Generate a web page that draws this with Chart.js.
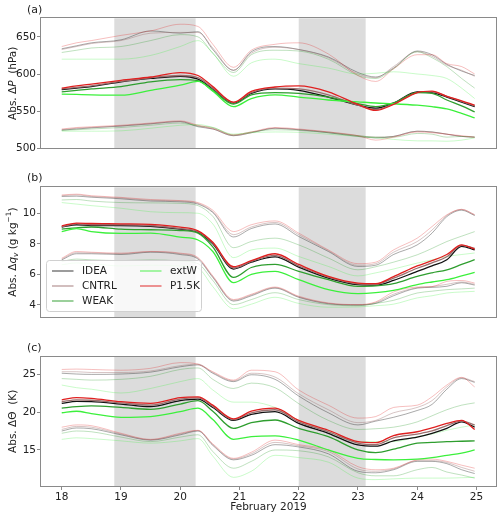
<!DOCTYPE html>
<html><head><meta charset="utf-8">
<script src="https://cdn.jsdelivr.net/npm/chart.js@4.4.0/dist/chart.umd.min.js"></script>
<style>
html,body{margin:0;padding:0;background:#fff;}
#wrap{position:relative;width:500px;height:518px;overflow:hidden;}
canvas{position:absolute;left:0;}
</style></head><body>
<div id="wrap">
<canvas id="ca" style="top:0px" width="500" height="160"></canvas>
<canvas id="cb" style="top:170px" width="500" height="160"></canvas>
<canvas id="cc" style="top:340px" width="500" height="178"></canvas>
</div>
<script>
// ---------- data ----------
const T = [18,18.25,18.5,19,19.5,20,20.3,20.55,20.9,21.2,21.6,22,22.5,23,23.3,23.6,24,24.25,24.5,24.75,24.97];
const SERIES = ['IDEA','CNTRL','WEAK','extW','P1.5K'];
const X_TICKS = [18,19,20,21,22,23,24,25];
const SHADE_START = [18.887, 22.0];
const SHADE_END = [20.26, 23.13];

// panel (a): Abs. dP (hPa)
const dP_IDEA_hi  = [634,638,642,646,658,655,657,633,605,630,637,633,623,602,596,608,631,626,613,604,598];
const dP_IDEA_med = [579,581,583,589.5,594,597,593,580,561,574,580,578,569,558,554,561,576,575,569,562,556];
const dP_IDEA_lo  = [524.5,526,527.5,530,533,536,529,526,517,521,527,525,521,516,514,516,523,522,519,516,515];
const dP_CNTRL_hi  = [633,637,641,645,655,656,656,635,605,628,636,633,622,600,595,610,630,624,612,605,597];
const dP_CNTRL_med = [580,582,584,590,595,598,595,581,561.5,575,581,580,572,558,552,560,575,576,570,563,557];
const dP_CNTRL_lo  = [525,527,528,530,533,536,530,526,517,521,527,525,522,517,515,516,523,522,519,516,515];
const dP_WEAK_hi  = [629,632,635,637,645,653,650,628,602,626,632,631,620,598,594,607,630,622,610,594,581];
const dP_WEAK_med = [576,578,580,583,589.5,592.5,591,578,559.5,572,575,574,569,560,556,561,575,574,565,557,549];
const dP_WEAK_lo  = [524,525,526,528,531,534,530,528,518,522,525,524,521,517,515,515,520,519,515,516,515];
const dP_extW_hi  = [620,620,620,620,625,637,645,628,597,615,620,614,608,600,601,603,600,598,594,581,567];
const dP_extW_med = [573,572.5,572,571.5,578,585,590,577,556,567,572,569,565,562.5,561,560,558,556,553,547,541];
const dP_extW_lo  = [523,523,523,523.5,527,531,532,528,519,521,522,521.5,519,516,514,512,510,510,509.5,511,514];
const dP_P15K_hi  = [637,642,645,652,658,667,664,640,609,632,640,642,627,598,590,607,626,626,614,610,600];
const dP_P15K_med = [581,584,586.5,591.5,596,602,598,583,562,576.5,582.5,584,576,559,551,559,575,577,570,564,558];
const dP_P15K_lo  = [526,528,529,531,534,537,531,527,518,522,528,526,522,517,511,515,522,521,519,517,515];

// panel (b): Abs. dq_v (g/kg)
const dq_IDEA_hi  = [11.1,11.12,11.05,10.95,10.8,10.75,10.6,10.05,8.45,9.0,9.3,8.48,7.5,6.52,6.6,7.3,7.93,8.7,9.78,10.2,9.85];
const dq_IDEA_med = [9.09,9.25,9.2,9.2,9.15,8.96,8.75,8.0,6.35,6.8,7.15,6.48,5.76,5.33,5.3,5.6,6.2,6.55,6.96,7.83,7.6];
const dq_IDEA_lo  = [6.95,7.35,7.35,7.3,7.45,7.3,7.0,5.8,4.25,4.6,5.1,4.5,4.08,4.0,4.1,4.6,5.1,5.15,5.22,5.45,5.3];
const dq_CNTRL_hi  = [11.15,11.2,11.1,11.0,10.85,10.8,10.65,10.1,8.6,9.1,9.4,8.6,7.55,6.6,6.7,7.45,8.15,8.9,9.85,10.25,9.9];
const dq_CNTRL_med = [9.12,9.3,9.25,9.25,9.2,9.0,8.8,8.05,6.42,6.85,7.25,6.55,5.82,5.38,5.35,5.75,6.4,6.75,7.15,7.9,7.7];
const dq_CNTRL_lo  = [7.0,7.42,7.4,7.35,7.48,7.35,7.05,5.85,4.3,4.65,5.13,4.53,4.1,4.0,4.15,4.7,5.13,5.2,5.35,5.5,5.35];
const dq_WEAK_hi  = [10.87,10.9,10.8,10.7,10.68,10.65,10.5,9.8,7.75,8.15,8.37,7.93,7.07,6.3,6.5,6.8,7.28,7.7,8.15,8.5,8.8];
const dq_WEAK_med = [8.96,9.05,9.1,8.96,8.92,8.87,8.7,7.8,5.8,6.45,6.65,6.2,5.65,5.22,5.25,5.4,5.87,6.1,6.3,6.65,6.96];
const dq_WEAK_lo  = [6.85,7.0,6.95,6.9,6.95,6.88,6.7,5.6,4.02,4.35,4.8,4.35,4.02,3.95,4.1,4.3,4.78,4.9,5.0,5.05,5.1];
const dq_extW_hi  = [10.7,10.6,10.5,10.33,10.1,10.04,10.0,9.3,7.1,7.6,7.72,7.17,6.52,5.9,6.1,6.35,6.74,6.95,7.17,7.3,7.4];
const dq_extW_med = [8.8,9.0,8.8,8.68,8.7,8.44,8.25,7.5,5.46,6.0,6.2,5.65,5.0,4.74,4.8,4.95,5.33,5.5,5.65,5.9,6.13];
const dq_extW_lo  = [6.63,6.75,6.7,6.55,6.6,6.55,6.4,5.2,3.75,4.05,4.5,4.1,3.85,3.87,3.95,4.05,4.46,4.6,4.78,4.85,4.89];
const dq_P15K_hi  = [11.2,11.25,11.15,11.04,10.9,10.83,10.7,10.2,8.8,9.25,9.5,8.7,7.6,6.7,6.8,7.6,8.37,9.13,9.9,10.26,9.9];
const dq_P15K_med = [9.18,9.36,9.33,9.31,9.27,9.09,8.85,8.1,6.5,6.9,7.35,6.65,5.87,5.43,5.39,5.85,6.55,6.9,7.3,7.93,7.65];
const dq_P15K_lo  = [7.06,7.5,7.45,7.39,7.5,7.39,7.1,5.9,4.35,4.7,5.17,4.57,4.13,4.02,4.2,4.85,5.17,5.2,5.54,5.6,5.43];

// panel (c): Abs. dTheta (K)
const dT_IDEA_hi  = [25.1,25.0,24.95,25.0,25.25,25.95,26.2,25.1,24.0,24.9,24.3,22.1,19.9,18.3,18.8,19.3,20.2,21.0,23.0,24.4,23.9];
const dT_IDEA_med = [21.14,21.4,21.36,21.05,20.7,21.5,21.7,20.6,18.9,19.7,20.04,18.5,17.2,15.66,15.5,16.2,16.7,17.2,17.85,18.7,18.0];
const dT_IDEA_lo  = [17.5,17.9,17.8,17.0,16.3,17.0,17.5,15.6,13.7,14.3,15.7,15.4,14.5,12.2,12.0,12.4,13.5,13.5,13.2,12.4,11.9];
const dT_CNTRL_hi  = [25.3,25.3,25.2,25.2,25.4,26.1,26.3,25.2,24.1,25.1,24.6,22.4,20.3,18.6,18.9,19.9,20.6,21.5,23.3,24.5,24.0];
const dT_CNTRL_med = [21.35,21.6,21.55,21.2,20.9,21.7,21.85,20.75,19.0,19.9,20.3,18.7,17.4,15.9,15.7,16.6,17.1,17.5,18.2,18.8,18.3];
const dT_CNTRL_lo  = [17.7,18.1,18.0,17.1,16.35,17.1,17.55,15.7,13.8,14.5,16.0,15.55,14.8,12.5,12.2,12.5,13.6,13.6,13.35,12.7,12.2];
const dT_WEAK_hi  = [24.4,24.3,24.2,24.3,24.7,25.6,25.8,24.3,23.1,23.8,23.2,21.1,18.9,17.7,17.8,18.0,18.7,19.5,20.3,20.9,21.2];
const dT_WEAK_med = [20.5,20.7,20.8,20.6,20.35,21.05,21.5,20.1,17.85,18.6,18.95,17.85,16.75,15.0,14.65,15.1,15.9,16.0,16.1,16.15,16.2];
const dT_WEAK_lo  = [17.2,17.5,17.4,16.7,16.1,16.7,17.0,14.8,12.6,13.5,15.0,14.9,14.1,12.0,11.6,11.6,12.4,12.7,12.1,11.7,11.3];
const dT_extW_hi  = [23.55,23.2,23.0,22.5,23.1,24.0,24.4,22.9,21.3,21.3,20.6,18.9,17.4,16.1,16.1,16.1,16.75,17.1,17.6,18.0,18.3];
const dT_extW_med = [19.9,20.1,19.8,19.3,19.4,20.04,20.5,19.0,16.4,16.75,16.85,16.3,15.0,13.9,13.75,13.7,13.8,14.0,14.3,14.6,15.0];
const dT_extW_lo  = [16.4,16.6,16.5,16.2,15.9,16.2,16.5,14.2,11.4,12.2,14.3,14.0,13.4,11.3,11.1,11.2,11.3,11.3,11.3,11.35,11.4];
const dT_P15K_hi  = [25.6,25.65,25.6,25.5,25.75,26.5,26.3,25.3,24.2,25.5,25.3,22.9,20.9,19.2,19.4,20.6,20.9,22.0,23.55,24.56,23.3];
const dT_P15K_med = [21.6,21.9,21.8,21.36,21.14,21.9,22.0,20.9,19.1,20.1,20.5,18.9,17.6,16.1,15.96,16.9,17.4,17.9,18.5,18.9,17.7];
const dT_P15K_lo  = [18.0,18.3,18.2,17.2,16.4,17.2,17.6,15.8,13.9,14.7,16.3,15.7,15.0,12.8,12.4,12.6,13.7,13.8,13.5,13.0,12.6];

const YT_A = [500,550,600,650];
const YT_B = [4,6,8,10];
const YT_C = [15,20,25];

// ---------- styling ----------
const FONT = 'DejaVu Sans';
const MED_COLOR  = ['#111111','#9b6f6f','#2f9e2f','#3cf03c','#e02020'];
const THIN_COLOR = ['rgba(17,17,17,0.4)','rgba(155,111,111,0.45)','rgba(47,158,47,0.35)','rgba(60,240,60,0.3)','rgba(224,32,32,0.32)'];
const LEG_COLOR  = ['rgba(17,17,17,0.7)','rgba(155,111,111,0.75)','rgba(47,158,47,0.8)','rgba(60,240,60,0.75)','rgba(224,32,32,0.8)'];

function pts(arr){ return arr.map((v,i)=>({x:T[i], y:v})); }

function buildDatasets(hi, med, lo){
  const list = [];
  for(let s=0;s<SERIES.length;s++){
    list.push({label:SERIES[s]+' upper', data:pts(hi[s]), borderColor:THIN_COLOR[s], borderWidth:0.9});
    list.push({label:SERIES[s]+' lower', data:pts(lo[s]), borderColor:THIN_COLOR[s], borderWidth:0.9});
  }
  for(let s=0;s<SERIES.length;s++){
    list.push({label:SERIES[s], data:pts(med[s]), borderColor:MED_COLOR[s], borderWidth:1.3});
  }
  list.forEach(d=>{ d.pointRadius=0; d.fill=false; d.cubicInterpolationMode='monotone'; });
  return list.reverse(); // first dataset is drawn on top
}

function drawRich(ctx, segs, cx, cy, size){
  ctx.save();
  ctx.translate(cx, cy);
  ctx.rotate(-Math.PI/2);
  ctx.textBaseline = 'middle';
  ctx.fillStyle = '#222';
  const fontOf = s => (s.it?'italic ':'') + ((s.sub||s.sup)? size*0.7 : size) + 'px "' + FONT + '"';
  let total = 0;
  segs.forEach(s=>{ ctx.font = fontOf(s); s.w = ctx.measureText(s.t).width; total += s.w; });
  let x = -total/2;
  segs.forEach(s=>{
    ctx.font = fontOf(s);
    const dy = s.sub ? size*0.3 : (s.sup ? -size*0.38 : 0);
    ctx.fillText(s.t, x, dy);
    x += s.w;
  });
  ctx.restore();
}

function makePlugin(p){
  return {
    id:'panelDeco',
    beforeDatasetsDraw(chart){
      const {ctx, chartArea:a, scales:{x}} = chart;
      ctx.save();
      ctx.fillStyle = '#dcdcdc';
      for(let i=0;i<SHADE_START.length;i++){
        const x0 = x.getPixelForValue(SHADE_START[i]), x1 = x.getPixelForValue(SHADE_END[i]);
        ctx.fillRect(x0, a.top, x1-x0, a.bottom-a.top);
      }
      ctx.restore();
    },
    afterDraw(chart){
      const {ctx, chartArea:a} = chart;
      ctx.save();
      ctx.strokeStyle = '#8a8a8a';
      ctx.lineWidth = 1;
      ctx.strokeRect(Math.round(a.left)-0.5, Math.round(a.top)-0.5, Math.round(a.right-a.left)+1, Math.round(a.bottom-a.top)+1);
      // panel label
      ctx.fillStyle = '#222';
      ctx.font = '11px "' + FONT + '"';
      ctx.textBaseline = 'middle';
      ctx.textAlign = 'left';
      ctx.fillText(p.label, 27, p.labelY);
      ctx.restore();
      drawRich(ctx, p.title, 13, (a.top+a.bottom)/2, 10.5);
      if(p.legend){
        const L = p.legend;
        ctx.save();
        ctx.beginPath();
        if (ctx.roundRect) ctx.roundRect(L.x, L.y, L.w, L.h, 3); else ctx.rect(L.x, L.y, L.w, L.h);
        ctx.fillStyle = 'rgba(255,255,255,0.8)';
        ctx.fill();
        ctx.strokeStyle = '#d0d0d0';
        ctx.lineWidth = 1;
        ctx.stroke();
        ctx.font = '10.5px "' + FONT + '"';
        ctx.textBaseline = 'middle';
        ctx.textAlign = 'left';
        const cols = [[0,1,2],[3,4]];
        const colX = [L.x+5.5, L.x+93.5];
        cols.forEach((c,ci)=>{
          c.forEach((s,ri)=>{
            const yy = L.y + 10.5 + ri*15;
            ctx.strokeStyle = LEG_COLOR[s];
            ctx.lineWidth = 1.2;
            ctx.beginPath(); ctx.moveTo(colX[ci], yy); ctx.lineTo(colX[ci]+21.5, yy); ctx.stroke();
            ctx.fillStyle = '#222';
            ctx.fillText(SERIES[s], colX[ci]+30, yy);
          });
        });
        ctx.restore();
      }
    }
  };
}

function makeChart(id, p){
  const ds = buildDatasets(p.hi, p.med, p.lo);
  return new Chart(document.getElementById(id), {
    type:'line',
    data:{datasets:ds},
    options:{
      responsive:false, animation:false, devicePixelRatio:1,
      layout:{padding:{left:0, right:4, top:p.padTop, bottom:0}},
      plugins:{legend:{display:false}, tooltip:{enabled:false}},
      scales:{
        x:{type:'linear', min:17.65, max:25.33,
          afterBuildTicks:s=>{ s.ticks = X_TICKS.map(v=>({value:v})); },
          afterFit:s=>{ s.height = p.xH; },
          grid:{drawOnChartArea:false, drawTicks:p.showX, tickLength:4, color:'#8a8a8a'},
          border:{display:false},
          ticks:{display:p.showX, autoSkip:false, maxRotation:0, padding:1, color:'#222', font:{family:FONT, size:10.5}},
          title:{display:p.showX, text:'February 2019', color:'#222', font:{family:FONT, size:10.5}, padding:{top:0,bottom:4}}
        },
        y:{type:'linear', min:p.ymin, max:p.ymax,
          afterBuildTicks:s=>{ s.ticks = p.yt.map(v=>({value:v})); },
          afterFit:s=>{ s.width = 41; },
          grid:{drawOnChartArea:false, drawTicks:true, tickLength:4, color:'#8a8a8a'},
          border:{display:false},
          ticks:{padding:1, color:'#222', font:{family:FONT, size:10.5}}
        }
      }
    },
    plugins:[makePlugin(p)]
  });
}

makeChart('ca', {
  hi:[dP_IDEA_hi,dP_CNTRL_hi,dP_WEAK_hi,dP_extW_hi,dP_P15K_hi],
  med:[dP_IDEA_med,dP_CNTRL_med,dP_WEAK_med,dP_extW_med,dP_P15K_med],
  lo:[dP_IDEA_lo,dP_CNTRL_lo,dP_WEAK_lo,dP_extW_lo,dP_P15K_lo],
  ymin:500, ymax:675, yt:YT_A, padTop:18.3, xH:11.7, showX:false,
  label:'(a)', labelY:10,
  title:[{t:'Abs. Δ'},{t:'P',it:true},{t:'  (hPa)'}]
});
makeChart('cb', {
  hi:[dq_IDEA_hi,dq_CNTRL_hi,dq_WEAK_hi,dq_extW_hi,dq_P15K_hi],
  med:[dq_IDEA_med,dq_CNTRL_med,dq_WEAK_med,dq_extW_med,dq_P15K_med],
  lo:[dq_IDEA_lo,dq_CNTRL_lo,dq_WEAK_lo,dq_extW_lo,dq_P15K_lo],
  ymin:3.21, ymax:11.70, yt:YT_B, padTop:17.3, xH:13, showX:false,
  label:'(b)', labelY:8,
  title:[{t:'Abs. Δ'},{t:'q',it:true},{t:'v',it:true,sub:true},{t:' (g kg'},{t:'−1',sup:true},{t:')'}],
  legend:{x:46.5, y:90.5, w:155, h:51}
});
makeChart('cc', {
  hi:[dT_IDEA_hi,dT_CNTRL_hi,dT_WEAK_hi,dT_extW_hi,dT_P15K_hi],
  med:[dT_IDEA_med,dT_CNTRL_med,dT_WEAK_med,dT_extW_med,dT_P15K_med],
  lo:[dT_IDEA_lo,dT_CNTRL_lo,dT_WEAK_lo,dT_extW_lo,dT_P15K_lo],
  ymin:10.26, ymax:27.28, yt:YT_C, padTop:16.7, xH:32, showX:true,
  label:'(c)', labelY:8,
  title:[{t:'Abs. ΔΘ  (K)'}]
});
</script>
</body></html>
